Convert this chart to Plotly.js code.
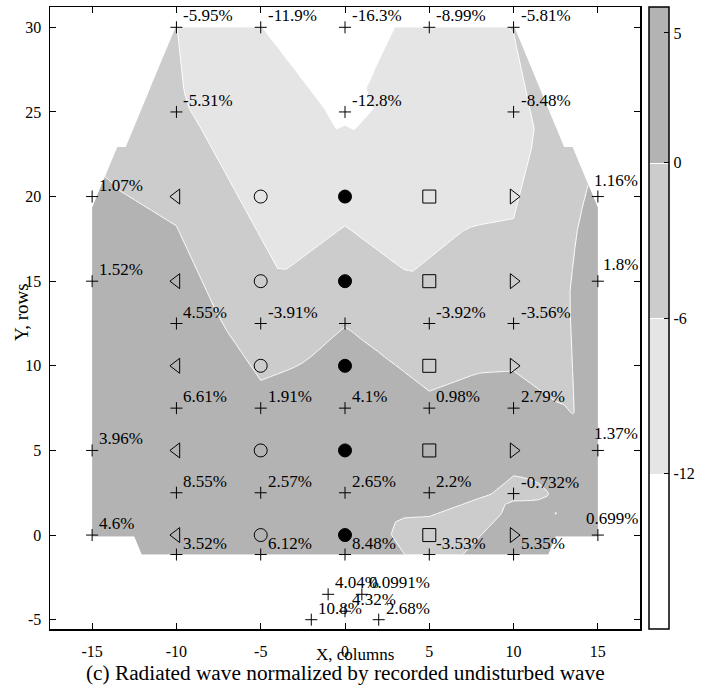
<!DOCTYPE html>
<html><head><meta charset="utf-8">
<script src="https://cdn.plot.ly/plotly-3.0.1.min.js"></script>
<style>html,body{margin:0;padding:0;background:#fff}</style>
</head><body><div id="chart" style="width:711px;height:693px"></div>
<script>
// ---- measured points (x column, y row, value in %) ----
const ptX = [-10, -5, 0, 5, 10,
             -10, 0, 10,
             -15, 15,
             -15, 15,
             -10, -5, 0, 5, 10,
             -10, -5, 0, 5, 10,
             -15, 15,
             -10, -5, 0, 5, 10,
             -15, 15,
             -10, -5, 0, 5, 10,
             -1, 1, 0, -2, 2];
const ptY = [30, 30, 30, 30, 30,
             25, 25, 25,
             20, 20,
             15, 15,
             12.5, 12.5, 12.5, 12.5, 12.5,
             7.5, 7.5, 7.5, 7.5, 7.5,
             5, 5,
             2.5, 2.5, 2.5, 2.5, 2.45,
             0, 0,
             -1.15, -1.15, -1.15, -1.15, -1.15,
             -3.5, -3.5, -4.5, -5, -5];
const ptVal = [-5.95, -11.9, -16.3, -8.99, -5.81,
               -5.31, -12.8, -8.48,
               1.07, 1.16,
               1.52, 1.8,
               4.55, -3.91, -0.15, -3.92, -3.56,
               6.61, 1.91, 4.1, 0.98, 2.79,
               3.96, 1.37,
               8.55, 2.57, 2.65, 2.2, -0.732,
               4.6, 0.699,
               3.52, 6.12, 8.48, -3.53, 5.35,
               4.04, 0.0991, 4.32, 10.8, 2.68];
const ptLabel = ['-5.95%', '-11.9%', '-16.3%', '-8.99%', '-5.81%',
                 '-5.31%', '-12.8%', '-8.48%',
                 '1.07%', '1.16%',
                 '1.52%', '1.8%',
                 '4.55%', '-3.91%', '', '-3.92%', '-3.56%',
                 '6.61%', '1.91%', '4.1%', '0.98%', '2.79%',
                 '3.96%', '1.37%',
                 '8.55%', '2.57%', '2.65%', '2.2%', '-0.732%',
                 '4.6%', '0.699%',
                 '3.52%', '6.12%', '8.48%', '-3.53%', '5.35%',
                 '4.04%', '0.0991%', '4.32%', '10.8%', '2.68%'];

// ---- symbol positions ----
const symRows = [0, 5, 10, 15, 20];
const symCols = [-10, -5, 0, 5, 10];
const symShapes = ['triangle-left-open', 'circle-open', 'circle', 'square-open', 'triangle-right-open'];

// ---- contour levels / colorbar / axes ----
const levelStart = -12, levelEnd = 0, levelStep = 6;
const bandColors = ['#ffffff', '#e5e5e5', '#cccccc', '#b3b3b3'];
const cbTicks = [-12, -6, 0, 5];
const xTicks = [-15, -10, -5, 0, 5, 10, 15];
const yTicks = [-5, 0, 5, 10, 15, 20, 25, 30];
const xRange = [-17.5, 17.5];
const yRange = [-5.55, 31.2];
const xTitle = 'X, columns';
const yTitle = 'Y, rows';
const caption = '(c) Radiated wave normalized by recorded undisturbed wave';

// ---- Delaunay triangulation (Bowyer-Watson) + linear interpolation ----
const SHEAR = 1e-3; // tie-break for co-circular grid cells
function shx(x, y) { return x + SHEAR * y; }
function delaunay(xs0, ys0) {
  const n = xs0.length;
  const xs = xs0.map((x, i) => shx(x, ys0[i])), ys = ys0.slice();
  const minX = Math.min(...xs), maxX = Math.max(...xs), minY = Math.min(...ys), maxY = Math.max(...ys);
  const d = Math.max(maxX - minX, maxY - minY) * 1000;
  const cx = (minX + maxX) / 2, cy = (minY + maxY) / 2;
  xs.push(cx - 2 * d, cx, cx + 2 * d); ys.push(cy - d, cy + 2 * d, cy - d);
  function mk(a, b, c) {
    const ax = xs[a], ay = ys[a], bx = xs[b], by = ys[b], qx = xs[c], qy = ys[c];
    const D = 2 * (ax * (by - qy) + bx * (qy - ay) + qx * (ay - by));
    const a2 = ax * ax + ay * ay, b2 = bx * bx + by * by, c2 = qx * qx + qy * qy;
    const ux = (a2 * (by - qy) + b2 * (qy - ay) + c2 * (ay - by)) / D;
    const uy = (a2 * (qx - bx) + b2 * (ax - qx) + c2 * (bx - ax)) / D;
    return {v: [a, b, c], ux, uy, r2: (ax - ux) ** 2 + (ay - uy) ** 2};
  }
  let tris = [mk(n, n + 1, n + 2)];
  for (let i = 0; i < n; i++) {
    const px = xs[i], py = ys[i];
    const bad = [], keep = [];
    for (const t of tris) {
      const dd = (px - t.ux) ** 2 + (py - t.uy) ** 2;
      if (dd < t.r2 * (1 - 1e-10)) bad.push(t); else keep.push(t);
    }
    const edges = new Map();
    for (const t of bad) for (let k = 0; k < 3; k++) {
      const a = t.v[k], b = t.v[(k + 1) % 3];
      const key = Math.min(a, b) + ',' + Math.max(a, b);
      if (edges.has(key)) edges.get(key).c++; else edges.set(key, {a, b, c: 1});
    }
    for (const e of edges.values()) if (e.c === 1) keep.push(mk(e.a, e.b, i));
    tris = keep;
  }
  return {xs, ys, tris: tris.filter(t => t.v.every(v => v < n)).map(t => t.v)};
}
const tri = delaunay(ptX, ptY);
function interp(x, y) {
  const qx = shx(x, y), qy = y, X = tri.xs, Y = tri.ys;
  for (const [a, b, c] of tri.tris) {
    const det = (Y[b] - Y[c]) * (X[a] - X[c]) + (X[c] - X[b]) * (Y[a] - Y[c]);
    const l1 = ((Y[b] - Y[c]) * (qx - X[c]) + (X[c] - X[b]) * (qy - Y[c])) / det;
    const l2 = ((Y[c] - Y[a]) * (qx - X[c]) + (X[a] - X[c]) * (qy - Y[c])) / det;
    const l3 = 1 - l1 - l2;
    const e = -1e-9;
    if (l1 >= e && l2 >= e && l3 >= e) return l1 * ptVal[a] + l2 * ptVal[b] + l3 * ptVal[c];
  }
  return null;
}
// interpolation grid spanning the measured rows (bottom measured row .. top row)
const gx = [], gy = [];
const gxMin = Math.min(...ptX), gxMax = Math.max(...ptX);
const gyMin = -1.15, gyMax = Math.max(...ptY);
for (let i = 0; i <= 60; i++) gx.push(gxMin + (gxMax - gxMin) * i / 60);
for (let j = 0; j <= 26; j++) gy.push(gyMin + (gyMax - gyMin) * j / 26);
const gz = gy.map(y => gx.map(x => interp(x, y)));

const FONT = 'Liberation Serif, Times New Roman, serif';
const traces = [];
traces.push({
  type: 'contour', x: gx, y: gy, z: gz, connectgaps: false,
  zmin: levelStart - levelStep, zmax: levelEnd + levelStep,
  contours: {start: levelStart, end: levelEnd, size: levelStep, coloring: 'fill', showlines: true},
  line: {color: '#ffffff', width: 1, smoothing: 0},
  colorscale: bandColors.map((c, i) => [i / (bandColors.length - 1), c]),
  hoverinfo: 'skip',
  colorbar: {
    x: 1.0153, xanchor: 'left', xpad: 0, ypad: 0, y: 0.5, yanchor: 'middle', len: 1,
    thickness: 20, outlinewidth: 1.5, outlinecolor: '#000',
    tickmode: 'array', tickvals: cbTicks, ticktext: cbTicks.map(String),
    ticks: 'inside', ticklen: 5, tickcolor: '#000',
    tickfont: {family: FONT, size: 16, color: '#000'}
  }
});
symCols.forEach((c, k) => {
  traces.push({
    type: 'scatter', mode: 'markers', x: symRows.map(() => c), y: symRows,
    marker: {symbol: symShapes[k], size: 13, color: '#000', line: {color: '#000', width: 1}},
    hoverinfo: 'skip', showlegend: false
  });
});
traces.push({
  type: 'scatter', mode: 'markers', x: ptX, y: ptY,
  marker: {symbol: 'cross-thin-open', size: 8.6, color: '#000', line: {color: '#000', width: 1}},
  hoverinfo: 'skip', showlegend: false, cliponaxis: false
});

// label annotations, kept inside the axes box
const M = {l: 50, r: 71, t: 7, b: 64};
const plotW = 711 - M.l - M.r, plotH = 693 - M.t - M.b;
const cvs = document.createElement('canvas').getContext('2d');
const LBL = 17;
cvs.font = LBL + 'px "Liberation Serif"';
const annotations = [];
ptLabel.forEach((t, i) => {
  if (!t) return;
  const px = (ptX[i] - xRange[0]) / (xRange[1] - xRange[0]) * plotW;
  const w = cvs.measureText(t).width + 2;
  let xs = 5, ys = 0;
  if (px + xs + w > plotW - 2) { xs = plotW - 2 - px - w; ys = 5; }
  annotations.push({x: ptX[i], y: ptY[i], xref: 'x', yref: 'y', text: t, showarrow: false,
    xanchor: 'left', yanchor: 'bottom', xshift: xs, yshift: ys,
    font: {family: FONT, size: LBL, color: '#000'}});
});
// axis titles and caption (pixel positions converted to paper units)
annotations.push({x: (355 - M.l) / plotW, y: (M.t + plotH - 654) / plotH, xref: 'paper', yref: 'paper',
  xanchor: 'center', yanchor: 'middle', showarrow: false, text: xTitle,
  font: {family: FONT, size: 17, color: '#000'}});
annotations.push({x: (21 - M.l) / plotW, y: (M.t + plotH - 312) / plotH, xref: 'paper', yref: 'paper',
  xanchor: 'center', yanchor: 'middle', showarrow: false, text: yTitle, textangle: -90,
  font: {family: FONT, size: 19, color: '#000'}});
annotations.push({x: 0.5, y: (M.t + plotH - 673) / plotH, xref: 'paper', yref: 'paper', xanchor: 'center', yanchor: 'middle',
  showarrow: false, text: caption,
  font: {family: FONT, size: 21.3, color: '#000'}});

const axisCommon = {
  showgrid: false, zeroline: false, showline: true, mirror: 'ticks', linecolor: '#000', linewidth: 1.5,
  ticks: 'inside', ticklen: 6, tickcolor: '#000', tickwidth: 1,
  tickfont: {family: FONT, size: 16, color: '#000'}, tickmode: 'array'
};
const layout = {
  width: 711, height: 693, margin: M, showlegend: false,
  paper_bgcolor: '#fff', plot_bgcolor: '#fff',
  xaxis: Object.assign({}, axisCommon, {range: xRange, tickvals: xTicks, ticktext: xTicks.map(String), ticklabelstandoff: 7}),
  yaxis: Object.assign({}, axisCommon, {range: yRange, tickvals: yTicks, ticktext: yTicks.map(String), ticklabelstandoff: 4}),
  annotations: annotations
};
Plotly.newPlot('chart', traces, layout, {displayModeBar: false, staticPlot: true});
</script></body></html>
